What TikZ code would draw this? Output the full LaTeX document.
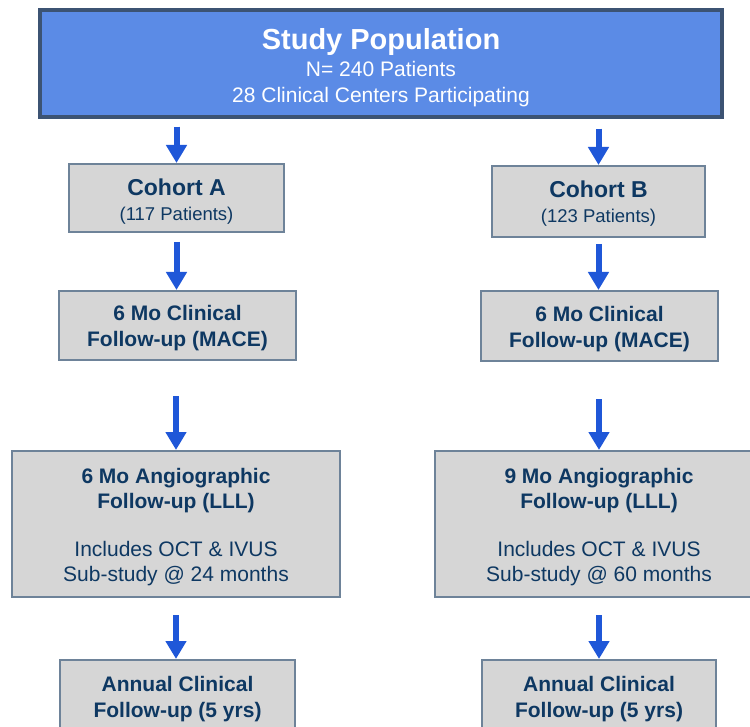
\documentclass[tikz,border=0pt]{standalone}
\usepackage{fontspec}
\setmainfont{Liberation Sans}
\usetikzlibrary{arrows.meta}
\definecolor{topfill}{HTML}{5B8BE6}
\definecolor{topborder}{HTML}{3C5373}
\definecolor{gfill}{HTML}{D6D6D6}
\definecolor{gborder}{HTML}{6E8399}
\definecolor{navy}{HTML}{0E3862}
\definecolor{arrowblue}{HTML}{1F57D8}
\newcommand{\fsz}[2]{\fontsize{#1}{#2}\selectfont}
\tikzset{
  topbox/.style={draw=topborder, line width=3.5pt, fill=topfill, inner sep=0pt},
  gbox/.style={draw=gborder, line width=2pt, fill=gfill, inner sep=0pt},
  toptext/.style={text=white, align=center, inner sep=0pt},
  gtext/.style={text=navy, align=center, inner sep=0pt},
  flow/.style={draw=arrowblue, line width=6pt, -{Triangle[width=20pt,length=18pt]}},
}
\begin{document}
\begin{tikzpicture}[x=1pt,y=1pt]
\clip (0,0) rectangle (750,-727);
\useasboundingbox (0,0) rectangle (750,-727);
\fill[white] (0,0) rectangle (750,-727);
% boxes
\node[topbox, minimum width=682pt, minimum height=107pt] (top) at (381,-63.5) {};
\node[gbox, minimum width=215pt, minimum height=68pt] (cA) at (176.5,-198) {};
\node[gbox, minimum width=213pt, minimum height=71pt] (cB) at (598.5,-201.5) {};
\node[gbox, minimum width=237pt, minimum height=69pt] (mA) at (177.5,-325.5) {};
\node[gbox, minimum width=237pt, minimum height=70pt] (mB) at (599.5,-326) {};
\node[gbox, minimum width=328pt, minimum height=146pt] (gA) at (176,-524) {};
\node[gbox, minimum width=328pt, minimum height=146pt] (gB) at (599,-524) {};
\node[gbox, minimum width=235pt, minimum height=80pt] (aA) at (177.5,-700) {};
\node[gbox, minimum width=234pt, minimum height=80pt] (aB) at (599,-700) {};
% texts
\node[toptext, font=\fsz{21}{26}] (topt) at (381,-67.5)
  {\fsz{29}{26}\bfseries Study Population\\[1pt]
   N= 240 Patients\\28 Clinical Centers Participating};
\node[gtext, font=\fsz{18.5}{25}] (cAt) at (176.5,-201.5)
  {\fsz{23}{25}\bfseries Cohort A\\(117 Patients)};
\node[gtext, font=\fsz{18.5}{25}] (cBt) at (598.5,-204)
  {\fsz{23}{25}\bfseries Cohort B\\(123 Patients)};
\node[gtext, font=\fsz{21}{26}\bfseries] (mAt) at (177.5,-328.5)
  {6 Mo Clinical\\Follow-up (MACE)};
\node[gtext, font=\fsz{21}{26}\bfseries] (mBt) at (599.5,-329)
  {6 Mo Clinical\\Follow-up (MACE)};
\node[gtext, font=\fsz{21}{25}] (gAt) at (176,-527)
  {\textbf{6 Mo Angiographic}\\\textbf{Follow-up (LLL)}\\[23pt]Includes OCT \& IVUS\\Sub-study @ 24 months};
\node[gtext, font=\fsz{21}{25}] (gBt) at (599,-527)
  {\textbf{9 Mo Angiographic}\\\textbf{Follow-up (LLL)}\\[23pt]Includes OCT \& IVUS\\Sub-study @ 60 months};
\node[gtext, font=\fsz{21}{26}\bfseries] (aAt) at (177.5,-699.5)
  {Annual Clinical\\Follow-up (5 yrs)};
\node[gtext, font=\fsz{21}{26}\bfseries] (aBt) at (599,-699.5)
  {Annual Clinical\\Follow-up (5 yrs)};
% arrows
\draw[flow] ([yshift=-8pt]top.south -| cA.north) -- (cA.north);
\draw[flow] ([yshift=-10pt]top.south -| cB.north) -- (cB.north);
\draw[flow] ([yshift=-9pt]cA.south) -- (mA.north -| cA.south);
\draw[flow] ([yshift=-6pt]cB.south) -- (mB.north -| cB.south);
\draw[flow] ([yshift=-35pt]mA.south -| gA.north) -- (gA.north);
\draw[flow] ([yshift=-37pt]mB.south -| gB.north) -- (gB.north);
\draw[flow] ([yshift=-17pt]gA.south) -- (aA.north -| gA.south);
\draw[flow] ([yshift=-17pt]gB.south) -- (aB.north -| gB.south);
\end{tikzpicture}
\end{document}
